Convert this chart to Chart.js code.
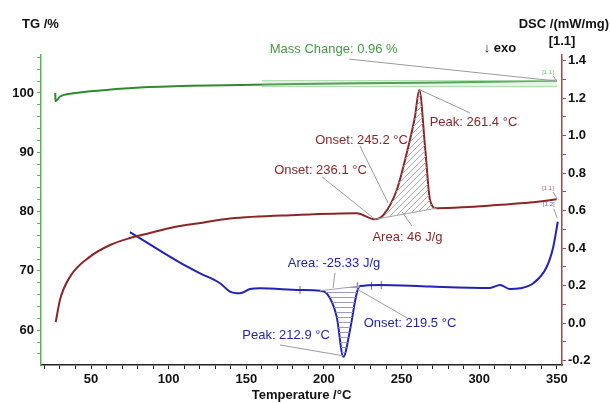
<!DOCTYPE html>
<html>
<head>
<meta charset="utf-8">
<script src="https://cdn.jsdelivr.net/npm/chart.js@4.4.1/dist/chart.umd.min.js"></script>
<style>
  html, body { margin: 0; padding: 0; background: #fff; }
  #wrap { width: 610px; height: 403px; }
</style>
</head>
<body>
<div id="wrap"><canvas id="tgDsc"></canvas></div>
<script>
// TG curve (left axis, %)
const tgTemp = [27.0, 27.1, 30.1, 38.6, 60.1, 81.6, 113.8, 146.0, 184.6, 221.0, 263.8, 307.0, 350.1];
const tgMass = [100.0, 98.6, 99.4, 99.95, 100.5, 100.9, 101.2, 101.35, 101.5, 101.64, 101.74, 101.9, 102.07];

// mass change step band
const bandTemp = [160, 350.1];
const bandTop = [102.07, 102.07];
const bandBottom = [101.06, 101.06];

// DSC segment [1.1] (right axis, mW/mg)
const dscTemp = [27.3, 30, 36.5, 49.4, 62.3, 75.1, 88, 101, 122, 139.5, 182.5, 221.1, 232.9, 238.3, 246.9,
                 253.3, 258.6, 261.4, 265.1, 268.3, 272.6, 289.8, 311.3, 332.7, 349.9];
const dscValue = [0.006, 0.124, 0.248, 0.355, 0.417, 0.454, 0.481, 0.508, 0.536, 0.558, 0.577, 0.586, 0.554, 0.577, 0.710,
                  0.906, 1.101, 1.244, 0.941, 0.657, 0.613, 0.618, 0.630, 0.643, 0.661];
const dscPeakBaseTemp = [232.9, 272.6];
const dscPeakBaseValue = [0.554, 0.613];

// DSC segment [1.2]
const blueTemp = [75.1, 107.3, 120.2, 133.1, 139.5, 145.9, 152.4, 158.8, 184.6, 197.5, 201.8, 208.2, 212.5, 216.8,
                  221.1, 223.2, 236.1, 268.3, 306.9, 313.4, 319.8, 326.3, 334.8, 343.5, 347.7, 350.6];
const blueValue = [0.486, 0.323, 0.266, 0.213, 0.168, 0.159, 0.182, 0.186, 0.177, 0.173, 0.159, 0.035, -0.179, -0.036,
                   0.159, 0.198, 0.204, 0.195, 0.188, 0.204, 0.182, 0.186, 0.213, 0.301, 0.408, 0.541];
const bluePeakBaseTemp = [197.5, 223.2];
const bluePeakBaseValue = [0.173, 0.198];
const blueMarkTemp = [184.6, 221.5, 230.6, 236.9];
const blueMarkValue = [0.177, 0.197, 0.200, 0.204];

// axis ticks
const xTickValues = [20, 30, 40, 50, 60, 70, 80, 90, 100, 110, 120, 130, 140, 150, 160, 170, 180, 190, 200,
                     210, 220, 230, 240, 250, 260, 270, 280, 290, 300, 310, 320, 330, 340, 350];
const tgTickValues = [56, 58, 60, 62, 64, 66, 68, 70, 72, 74, 76, 78, 80, 82, 84, 86, 88, 90, 92, 94, 96, 98, 100, 102, 104, 106];
const dscTickValues = [-0.2, -0.1, 0.0, 0.1, 0.2, 0.3, 0.4, 0.5, 0.6, 0.7, 0.8, 0.9, 1.0, 1.1, 1.2, 1.3, 1.4];

const GREEN = '#2f8a2f';
const BROWN = '#8b2626';
const BLUE = '#2222b8';
const FONT = '"Liberation Sans", Arial, sans-serif';

function pts(xs, ys, from, to) {
    const out = [];
    for (let i = from || 0; i < (to === undefined ? xs.length : to); i++) out.push({ x: xs[i], y: ys[i] });
    return out;
}

function hatch(color, kind) {
    const c = document.createElement('canvas');
    c.width = 6; c.height = kind === 'diag' ? 6 : 5;
    const g = c.getContext('2d');
    g.strokeStyle = color;
    g.lineWidth = 1;
    g.beginPath();
    if (kind === 'diag') {
        g.moveTo(0, 6); g.lineTo(6, 0);
        g.moveTo(-1, 1); g.lineTo(1, -1);
        g.moveTo(5, 7); g.lineTo(7, 5);
    } else {
        g.moveTo(0, 2.5); g.lineTo(6, 2.5);
    }
    g.stroke();
    return g.createPattern(c, 'repeat');
}

const brownStart = dscTemp.indexOf(dscPeakBaseTemp[0]);
const brownEnd = dscTemp.indexOf(dscPeakBaseTemp[1]) + 1;
const blueStart = blueTemp.indexOf(bluePeakBaseTemp[0]);
const blueEnd = blueTemp.indexOf(bluePeakBaseTemp[1]) + 1;

// annotations in data units (x: temperature, y: DSC axis)
const notes = [
    { text: 'Mass Change: 0.96 %', x: 206.3, y: 1.462, color: '#3f9c3f', line: [216.3, 1.408, 348.8, 1.292] },
    { text: 'Peak: 261.4 °C', x: 296.3, y: 1.068, color: BROWN, line: [261.9, 1.244, 294.1, 1.121] },
    { text: 'Onset: 245.2 °C', x: 224.2, y: 0.977, color: BROWN, line: [223.2, 0.945, 241.3, 0.641] },
    { text: 'Onset: 236.1 °C', x: 197.8, y: 0.817, color: BROWN, line: [198.8, 0.780, 232.9, 0.554] },
    { text: 'Area: 46 J/g', x: 253.8, y: 0.459, color: BROWN, line: [256.7, 0.518, 250.3, 0.593] },
    { text: 'Area: -25.33 J/g', x: 206.5, y: 0.321, color: BLUE, line: [207.1, 0.268, 205.9, 0.188] },
    { text: 'Peak: 212.9 °C', x: 175.6, y: -0.063, color: BLUE, line: [171.7, -0.116, 212.3, -0.174] },
    { text: 'Onset: 219.5 °C', x: 255.4, y: 0.001, color: BLUE, line: [221.3, 0.182, 253.5, 0.028] }
];
const tags = [
    { text: '[1.1]', x: 344.3, y: 1.339, color: '#6fb86f', line: [347.5, 1.32, 350.0, 1.29] },
    { text: '[1.1]', x: 344.3, y: 0.721, color: '#b05a5a', line: [347.5, 0.70, 350.0, 0.665] },
    { text: '[1.2]', x: 344.8, y: 0.631, color: '#5a5ac0', line: [348.0, 0.61, 350.3, 0.56] }
];

const notesPlugin = {
    id: 'notes',
    afterDatasetsDraw(chart) {
        const { ctx, scales: { x, y1 } } = chart;
        ctx.save();
        ctx.strokeStyle = '#9a9a9a';
        ctx.lineWidth = 1;
        notes.concat(tags).forEach(n => {
            const l = n.line;
            ctx.beginPath();
            ctx.moveTo(x.getPixelForValue(l[0]), y1.getPixelForValue(l[1]));
            ctx.lineTo(x.getPixelForValue(l[2]), y1.getPixelForValue(l[3]));
            ctx.stroke();
        });
        ctx.textAlign = 'center';
        ctx.textBaseline = 'middle';
        ctx.font = '13px ' + FONT;
        notes.forEach(n => {
            ctx.fillStyle = n.color;
            ctx.fillText(n.text, x.getPixelForValue(n.x), y1.getPixelForValue(n.y));
        });
        ctx.font = '6px ' + FONT;
        tags.forEach(n => {
            ctx.fillStyle = n.color;
            ctx.fillText(n.text, x.getPixelForValue(n.x), y1.getPixelForValue(n.y));
        });

        // axis headers
        ctx.fillStyle = '#111';
        ctx.font = 'bold 13px ' + FONT;
        ctx.textAlign = 'left';
        ctx.fillText('TG /%', 22, 24);
        ctx.textAlign = 'right';
        ctx.fillText('DSC /(mW/mg)', 609, 24);
        ctx.textAlign = 'center';
        ctx.fillText('[1.1]', 562, 41);
        ctx.fillText('↓ exo', 500, 48);
        ctx.restore();
    }
};

const tickFont = { family: FONT, size: 13, weight: 'bold' };

new Chart(document.getElementById('tgDsc'), {
    type: 'line',
    data: {
        datasets: [
            {
                label: 'band top',
                data: pts(bandTemp, bandTop),
                yAxisID: 'y',
                borderColor: '#a8dca8',
                borderWidth: 1,
                backgroundColor: 'rgba(170, 220, 170, 0.3)',
                fill: '+1',
                pointRadius: 0
            },
            {
                label: 'band bottom',
                data: pts(bandTemp, bandBottom),
                yAxisID: 'y',
                borderColor: '#a8dca8',
                borderWidth: 1,
                fill: false,
                pointRadius: 0
            },
            {
                label: 'TG',
                data: pts(tgTemp, tgMass),
                yAxisID: 'y',
                borderColor: GREEN,
                borderWidth: 2,
                fill: false,
                pointRadius: 0,
                cubicInterpolationMode: 'monotone'
            },
            {
                label: 'peak hatch',
                data: pts(dscTemp, dscValue, brownStart, brownEnd),
                yAxisID: 'y1',
                borderWidth: 0,
                borderColor: 'rgba(0,0,0,0)',
                backgroundColor: hatch('#b0b0b0', 'diag'),
                fill: '+1',
                pointRadius: 0,
                cubicInterpolationMode: 'monotone'
            },
            {
                label: 'peak baseline',
                data: pts(dscPeakBaseTemp, dscPeakBaseValue),
                yAxisID: 'y1',
                borderColor: '#a0a0a0',
                borderWidth: 1,
                fill: false,
                pointRadius: 0
            },
            {
                label: 'DSC 1.1',
                data: pts(dscTemp, dscValue),
                yAxisID: 'y1',
                borderColor: BROWN,
                borderWidth: 2,
                fill: false,
                pointRadius: 0,
                cubicInterpolationMode: 'monotone'
            },
            {
                label: 'dip hatch',
                data: pts(blueTemp, blueValue, blueStart, blueEnd),
                yAxisID: 'y1',
                borderWidth: 0,
                borderColor: 'rgba(0,0,0,0)',
                backgroundColor: hatch('#9a9ac0', 'horiz'),
                fill: '+1',
                pointRadius: 0,
                cubicInterpolationMode: 'monotone'
            },
            {
                label: 'dip baseline',
                data: pts(bluePeakBaseTemp, bluePeakBaseValue),
                yAxisID: 'y1',
                borderColor: '#a0a0c0',
                borderWidth: 1,
                fill: false,
                pointRadius: 0
            },
            {
                label: 'DSC 1.2',
                data: pts(blueTemp, blueValue),
                yAxisID: 'y1',
                borderColor: BLUE,
                borderWidth: 2,
                fill: false,
                pointRadius: 0,
                cubicInterpolationMode: 'monotone'
            },
            {
                label: 'limits',
                type: 'scatter',
                data: pts(blueMarkTemp, blueMarkValue),
                yAxisID: 'y1',
                pointStyle: 'line',
                rotation: 90,
                pointRadius: 4,
                borderColor: '#6a6aa0',
                borderWidth: 1,
                showLine: false
            }
        ]
    },
    options: {
        responsive: true,
        maintainAspectRatio: false,
        animation: false,
        layout: { padding: { top: 55, left: 0, right: 0, bottom: 0 } },
        plugins: {
            legend: { display: false },
            tooltip: { enabled: false }
        },
        scales: {
            x: {
                type: 'linear',
                min: 17.8,
                max: 353.3,
                border: { color: '#222', width: 1.5 },
                grid: { drawOnChartArea: false, tickLength: 4, color: '#222' },
                afterBuildTicks: s => { s.ticks = xTickValues.map(v => ({ value: v })); },
                afterFit: s => { s.height = 38; },
                ticks: {
                    autoSkip: false,
                    maxRotation: 0,
                    padding: 3,
                    color: '#111',
                    font: tickFont,
                    callback: v => (v % 50 === 0 ? v : '')
                },
                title: {
                    display: true,
                    text: 'Temperature /°C',
                    color: '#111',
                    font: tickFont,
                    padding: { top: 0, bottom: 0 }
                }
            },
            y: {
                position: 'left',
                min: 54.13,
                max: 106.4,
                border: { color: '#55b855', width: 1.5 },
                grid: { drawOnChartArea: false, tickLength: 4, color: '#55b855' },
                afterBuildTicks: s => { s.ticks = tgTickValues.map(v => ({ value: v })); },
                afterFit: s => { s.width = 41; },
                ticks: {
                    autoSkip: false,
                    padding: 3,
                    color: '#111',
                    font: tickFont,
                    callback: v => (v % 10 === 0 ? v : '')
                }
            },
            y1: {
                position: 'right',
                min: -0.223,
                max: 1.430,
                border: { color: '#a04848', width: 1.5 },
                grid: { drawOnChartArea: false, tickLength: 4, color: '#a04848' },
                afterBuildTicks: s => { s.ticks = dscTickValues.map(v => ({ value: v })); },
                afterFit: s => { s.width = 48; },
                ticks: {
                    autoSkip: false,
                    padding: 2,
                    color: '#111',
                    font: tickFont,
                    callback: v => (Math.round(v * 10) % 2 === 0 ? v.toFixed(1) : '')
                }
            }
        }
    },
    plugins: [notesPlugin]
});
</script>
</body>
</html>
